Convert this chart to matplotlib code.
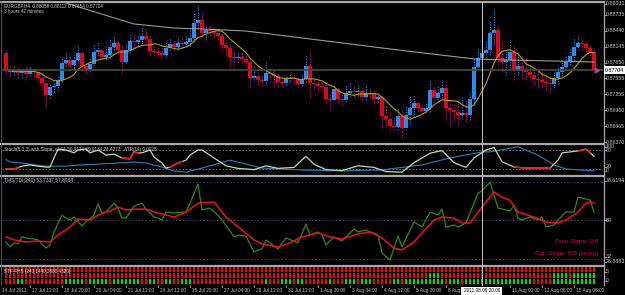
import matplotlib
matplotlib.use('Agg')
import matplotlib.pyplot as plt
from matplotlib.patches import Rectangle
from matplotlib.lines import Line2D
import numpy as np
import pandas as pd

# ---------------- data ----------------
first_open = 0.88028
closes = [0.87712, 0.87675, 0.87712, 0.87656, 0.87693, 0.87638, 0.87712, 0.87675, 0.87563, 0.87470,
          0.87247, 0.87396, 0.87414, 0.87526, 0.87842, 0.87898, 0.87805, 0.87898, 0.88028, 0.87786,
          0.87712, 0.87824, 0.88047, 0.88084, 0.87954, 0.87991, 0.88140, 0.88214, 0.88084, 0.87861,
          0.88084, 0.88251, 0.88233, 0.88270, 0.88344, 0.88289, 0.88065, 0.88047, 0.88028, 0.87991,
          0.88121, 0.88196, 0.88140, 0.88214, 0.88196, 0.88233, 0.88307, 0.88586, 0.88642, 0.88400,
          0.88456, 0.88437, 0.88400, 0.88344, 0.88177, 0.88121, 0.87954, 0.87935, 0.87954, 0.87917,
          0.87861, 0.87563, 0.87600, 0.87526, 0.87507, 0.87656, 0.87638, 0.87600, 0.87489, 0.87470,
          0.87545, 0.87563, 0.87545, 0.87452, 0.87545, 0.87786, 0.87470, 0.87452, 0.87414, 0.87396,
          0.87173, 0.87154, 0.87359, 0.87173, 0.87154, 0.87284, 0.87321, 0.87303, 0.87321, 0.87210,
          0.87284, 0.87266, 0.87173, 0.87210, 0.86856, 0.86801, 0.86670, 0.86652, 0.86856, 0.86633,
          0.86875, 0.87005, 0.87098, 0.87005, 0.86949, 0.87005, 0.87340, 0.87191, 0.87284, 0.87377,
          0.87005, 0.86968, 0.86931, 0.86875, 0.86912, 0.86875, 0.87173, 0.87768, 0.87935, 0.88028,
          0.88084, 0.88400, 0.88456, 0.87935, 0.87861, 0.87898, 0.88047, 0.87712, 0.87786, 0.87693,
          0.87675, 0.87619, 0.87545, 0.87526, 0.87489, 0.87470, 0.87452, 0.87563, 0.87675, 0.87768,
          0.87861, 0.87972, 0.88140, 0.88214, 0.88196, 0.88121, 0.88047, 0.87704]
highs = [0.88084, 0.87786, 0.87786, 0.87768, 0.87749, 0.87768, 0.87786, 0.87749, 0.87712, 0.87619,
         0.87526, 0.87452, 0.87470, 0.87619, 0.87935, 0.88047, 0.87972, 0.87991, 0.88177, 0.88047,
         0.87842, 0.87935, 0.88196, 0.88233, 0.88121, 0.88140, 0.88307, 0.88363, 0.88270, 0.88177,
         0.88196, 0.88400, 0.88344, 0.88363, 0.88512, 0.88493, 0.88344, 0.88177, 0.88140, 0.88121,
         0.88233, 0.88307, 0.88270, 0.88326, 0.88307, 0.88344, 0.88456, 0.88791, 0.88921, 0.88791,
         0.88549, 0.88549, 0.88512, 0.88456, 0.88400, 0.88270, 0.88177, 0.88084, 0.88047, 0.88028,
         0.87991, 0.87954, 0.87805, 0.87675, 0.87619, 0.87861, 0.87749, 0.87712, 0.87638, 0.87563,
         0.87619, 0.87638, 0.87638, 0.87582, 0.87619, 0.87991, 0.88047, 0.87563, 0.87526, 0.87526,
         0.87452, 0.87303, 0.87433, 0.87377, 0.87303, 0.87433, 0.87489, 0.87433, 0.87433, 0.87377,
         0.87414, 0.87377, 0.87340, 0.87303, 0.87247, 0.87061, 0.86931, 0.86819, 0.87005, 0.86968,
         0.87061, 0.87247, 0.87247, 0.87154, 0.87061, 0.87098, 0.87526, 0.87414, 0.87414, 0.87526,
         0.87489, 0.87154, 0.87098, 0.87154, 0.87210, 0.87154, 0.87303, 0.87935, 0.88121, 0.88177,
         0.88270, 0.88642, 0.88865, 0.88549, 0.88270, 0.88084, 0.88270, 0.88177, 0.88047, 0.87991,
         0.87935, 0.87805, 0.87749, 0.87712, 0.87675, 0.87619, 0.87563, 0.87675, 0.87786, 0.87898,
         0.87991, 0.88121, 0.88307, 0.88363, 0.88307, 0.88233, 0.88177, 0.88140]
lows = [0.87619, 0.87600, 0.87619, 0.87563, 0.87563, 0.87526, 0.87600, 0.87582, 0.87489, 0.87340,
        0.87024, 0.87191, 0.87303, 0.87340, 0.87489, 0.87786, 0.87712, 0.87749, 0.87842, 0.87712,
        0.87656, 0.87675, 0.87786, 0.87972, 0.87898, 0.87898, 0.87935, 0.88084, 0.88010, 0.87656,
        0.87842, 0.88028, 0.88121, 0.88158, 0.88196, 0.88233, 0.87991, 0.87972, 0.87954, 0.87935,
        0.87972, 0.88084, 0.88084, 0.88084, 0.88121, 0.88140, 0.88158, 0.88233, 0.88493, 0.88326,
        0.88270, 0.88344, 0.88307, 0.88270, 0.88084, 0.87991, 0.87712, 0.87805, 0.87861, 0.87842,
        0.87786, 0.87377, 0.87526, 0.87433, 0.87414, 0.87470, 0.87526, 0.87414, 0.87396, 0.87396,
        0.87433, 0.87470, 0.87452, 0.87377, 0.87414, 0.87489, 0.87210, 0.87340, 0.87303, 0.87340,
        0.87098, 0.86968, 0.87154, 0.87098, 0.87061, 0.87117, 0.87210, 0.87210, 0.87228, 0.87154,
        0.87154, 0.87191, 0.87098, 0.87117, 0.86633, 0.86689, 0.86596, 0.86596, 0.86596, 0.86447,
        0.86596, 0.86689, 0.86838, 0.86931, 0.86894, 0.86931, 0.86931, 0.87098, 0.87154, 0.87191,
        0.86782, 0.86689, 0.86782, 0.86689, 0.86819, 0.86745, 0.86782, 0.87061, 0.87712, 0.87805,
        0.87898, 0.87991, 0.88177, 0.87805, 0.87675, 0.87619, 0.87749, 0.87526, 0.87619, 0.87563,
        0.87526, 0.87526, 0.87433, 0.87396, 0.87377, 0.87340, 0.87303, 0.87377, 0.87452, 0.87600,
        0.87712, 0.87805, 0.87898, 0.88084, 0.88084, 0.88047, 0.87972, 0.87656]

slow_ma_bars = [10, 19, 32, 42, 49, 60, 82, 98, 117, 125, 147]
slow_ma_vals = [0.89079, 0.88865, 0.88568, 0.88493, 0.88475, 0.88437, 0.88233, 0.88084, 0.87917, 0.87898, 0.87861]
bid_price = 0.87704

price_labels = ['0.88735', '0.88440', '0.88145', '0.87850', '0.87555', '0.87255', '0.86960', '0.86665', '0.86370']
price_label_vals = [0.88735, 0.88440, 0.88145, 0.87850, 0.87555, 0.87255, 0.86960, 0.86665, 0.86370]
top_price_label = '0.89031'

stoch_k_bars = [0, 2, 4, 6, 8, 10, 11, 12, 13, 15, 17, 18, 20, 21, 23, 25, 27, 29, 31, 32, 33, 34, 36, 37, 39,
                40, 41, 43, 45, 46, 48, 49, 52, 55, 58, 62, 65, 68, 72, 75, 77, 80, 84, 88, 92, 95, 99, 102,
                106, 109, 112, 115, 117, 120, 122, 124, 127, 130, 136, 138, 139, 141, 143, 145, 147]
stoch_k_vals = [20, 20, 29, 33, 29, 26, 26, 55, 83, 80, 71, 80, 83, 71, 80, 64, 67, 55, 52, 74, 71, 71, 80, 58, 39,
                23, 26, 39, 48, 64, 80, 80, 55, 30, 22, 18, 30, 22, 25, 60, 35, 18, 15, 30, 25, 12, 10, 40,
                70, 78, 40, 25, 55, 80, 88, 43, 26, 23, 23, 48, 71, 74, 77, 83, 60]
stoch_red_ranges = [(0, 3), (29, 33), (41, 44), (127, 136), (143, 146)]
stoch_d_bars = [0, 1, 4, 7, 10, 15, 19, 24, 28, 32, 35, 39, 42, 45, 49, 56, 64, 74, 84, 94, 104, 111, 119, 121, 128, 133, 137, 140, 147]
stoch_d_vals = [50, 42, 39, 33, 29, 29, 33, 36, 39, 42, 39, 26, 14, 10, 23, 48, 23, 17, 14, 17, 33, 55, 74, 74, 90, 64, 33, 20, 14]

tdi_green_bars = [0, 1, 2, 3, 4, 5, 7, 8, 10, 11, 12, 14, 15, 16, 17, 19, 20, 22, 23, 24, 25, 27, 28, 29, 30, 32,
                  34, 35, 37, 38, 39, 40, 42, 45, 46, 48, 49, 51, 53, 54, 57, 58, 60, 62, 63, 64, 65, 68, 70,
                  73, 75, 76, 78, 79, 80, 82, 84, 87, 88, 90, 93, 94, 96, 98, 99, 102, 104, 106, 108, 109,
                  110, 112, 113, 115, 118, 119, 121, 123, 126, 127, 128, 129, 131, 133, 134, 135, 137, 138,
                  140, 142, 143, 145, 146, 147]
tdi_green_vals = [39.7, 37.4, 39.3, 38.8, 42.1, 41.6, 41.1, 40.7, 36.9, 38.3, 44.4, 52.3, 50.9, 50.0, 51.4, 47.2,
                  49.1, 52.3, 57.5, 53.3, 53.7, 57.9, 55.6, 50.9, 50.9, 56.5, 57.9, 55.1, 51.4, 50.9, 50.0,
                  53.7, 53.3, 53.7, 57.9, 66.8, 54.7, 55.6, 52.3, 50.0, 42.1, 43.0, 42.5, 35.0, 36.0, 36.4,
                  40.7, 36.4, 41.6, 39.3, 48.1, 43.0, 44.4, 43.0, 38.3, 42.1, 40.2, 45.8, 44.4, 45.3, 43.0,
                  34.6, 31.3, 42.5, 37.4, 49.1, 46.7, 53.7, 52.3, 55.1, 46.7, 47.7, 46.7, 48.6, 62.6, 63.6,
                  67.8, 55.6, 54.2, 57.0, 50.9, 50.0, 51.4, 50.0, 51.4, 46.7, 47.7, 50.0, 53.7, 53.7, 60.7,
                  59.8, 59.3, 53.7]
tdi_red_bars = [0, 2, 5, 8, 11, 13, 16, 18, 21, 23, 26, 28, 30, 33, 35, 38, 42, 45, 48, 52, 55, 59, 62, 64,
                68, 71, 74, 78, 81, 84, 88, 91, 94, 97, 99, 102, 104, 107, 109, 112, 114, 116, 119, 122,
                124, 126, 128, 132, 135, 138, 140, 143, 145, 146, 147]
tdi_red_vals = [42.1, 40.7, 39.7, 40.2, 39.7, 43.0, 46.7, 50.5, 50.0, 52.3, 54.2, 56.1, 54.7, 55.1, 55.1, 53.3,
                51.4, 53.7, 57.9, 58.4, 51.4, 45.3, 40.7, 38.8, 37.4, 39.3, 42.1, 43.9, 42.1, 41.1, 43.5,
                44.4, 41.6, 36.9, 36.0, 39.7, 43.9, 50.0, 51.4, 50.9, 48.6, 48.6, 56.1, 63.1, 60.7, 59.3,
                53.7, 51.4, 49.1, 48.6, 50.0, 53.7, 57.9, 58.4, 57.9]
tdi_levels = [68, 50, 32]

# heat map rows: '1' = green cell, '0' = red cell
heat_bottom = ("000" "11" "0000000000" "1111101111101111" "111001100110011100" "0000000000000000"
               "1" "000" "111" "0" "11" "000000" "1" "000" "111" "0" "111" "00000" "11" "0"
               "11111111110111" "0" "1111" "1111111111111" "00000" "11111111111")
heat_middle = "0" * 106 + "111" + "0" * 28 + "11110111111"
heat_top = "0" * 148

date_tick_bars = [6, 14, 22, 30, 38, 46, 54, 62, 70, 78, 86, 94, 102, 110, 126, 134, 142]
date_labels = ['17 Jul 12:00', '18 Jul 20:00', '20 Jul 04:00', '21 Jul 12:00', '24 Jul 12:00', '25 Jul 20:00',
               '27 Jul 04:00', '28 Jul 12:00', '31 Jul 12:00', '1 Aug 20:00', '3 Aug 04:00', '4 Aug 12:00',
               '5 Aug 20:00', '8 Aug 08:00', '11 Aug 00:00', '12 Aug 08:00', '15 Aug 08:00']
cursor_bar = 119
cursor_label = '2011.08.09 20:00'

# ---------------- layout helpers ----------------
W, H = 625, 295
fig = plt.figure(figsize=(W / 100, H / 100), dpi=100, facecolor='black')
FONT = 'Liberation Sans'
TXT = '#C8C8C8'
n = len(closes)
XL = (-1.0, 149.25)   # bar i sits at pixel 6 + 4*i


def px_axes(x0, y0, x1, y1):
    ax = fig.add_axes([x0 / W, 1 - y1 / H, (x1 - x0) / W, (y1 - y0) / H])
    ax.set_facecolor('black')
    ax.set_xticks([])
    ax.set_yticks([])
    for s in ax.spines.values():
        s.set_visible(False)
    ax.set_xlim(*XL)
    return ax


def fline(x0, y0, x1, y1, color='#A0A0A0', lw=1.5, ls='-', z=2):
    fig.add_artist(Line2D([x0 / W, x1 / W], [1 - y0 / H, 1 - y1 / H], transform=fig.transFigure,
                          color=color, lw=lw, ls=ls, zorder=z))


def ftext(x, y, s, color=TXT, size=3.6, ha='left', va='center', z=3, **kw):
    return fig.text(x / W, 1 - y / H, s, color=color, fontsize=size, ha=ha, va=va, family=FONT, zorder=z, **kw)


def fbox(x0, y0, w, h, z=5):
    fig.patches.append(Rectangle((x0 / W, 1 - (y0 + h) / H), w / W, h / H, transform=fig.transFigure,
                                 facecolor='white', edgecolor='none', zorder=z))


def yscale(a_px, a_val, b_px, b_val):
    def f(px):
        return a_val + (px - a_px) * (b_val - a_val) / (b_px - a_px)
    return f

# ---------------- main price panel ----------------
MAIN_T, MAIN_B = 2.5, 143.0
pmap = yscale(15, 0.88735, 142, 0.86370)
axm = px_axes(2, MAIN_T, 603, MAIN_B)
axm.set_ylim(pmap(MAIN_B), pmap(MAIN_T))

opens = [first_open] + closes[:-1]
for i in range(n):
    o, c, h, l = opens[i], closes[i], highs[i], lows[i]
    if c >= o:
        body, wick, ls = '#2E8EF0', '#2A7AD8', (0, (1, 1))
    else:
        body, wick, ls = '#FF0000', '#8A1456', (0, (1.5, 0.8))
    axm.vlines(i, l, h, color=wick, lw=0.9, linestyles=[ls])
    hgt = abs(c - o)
    if hgt < 0.00008:
        hgt = 0.00008
    axm.add_patch(Rectangle((i - 0.38, min(o, c)), 0.76, hgt, facecolor=body, edgecolor='none', lw=0))

sma = pd.Series(closes).rolling(8, min_periods=1).mean()
axm.plot(np.arange(n), sma, color='#B0A020', lw=0.8)
axm.plot(slow_ma_bars, slow_ma_vals, color='#9A9A9A', lw=0.8)
axm.axhline(bid_price, color='#3A4A3A', lw=1.3)

# ---------------- stochastic panel ----------------
ST_T, ST_B = 145.0, 175.0
smap = yscale(150, 80, 169, 20)
axs = px_axes(2, ST_T, 603, ST_B)
axs.set_ylim(smap(ST_B), smap(ST_T))
for lv in (80, 20):
    axs.axhline(lv, color='#7A7A7A', lw=0.6, ls=(0, (2, 2)))
axs.plot(stoch_d_bars, stoch_d_vals, color='#2F7FC0', lw=0.8)
axs.plot(stoch_k_bars, stoch_k_vals, color='#B8E0A8', lw=0.9)
for a, b in stoch_red_ranges:
    xs = np.linspace(a, b, 20)
    axs.plot(xs, np.interp(xs, stoch_k_bars, stoch_k_vals), color='#FF1020', lw=1.1)

# ---------------- TDI panel ----------------
TD_T, TD_B = 176.5, 265.0
tmap = yscale(220, 50, 258.5, 32)
axt = px_axes(2, TD_T, 603, TD_B)
axt.set_ylim(tmap(TD_B), tmap(TD_T))
for lv in tdi_levels:
    axt.axhline(lv, color='#3C4A64', lw=0.7, ls=(0, (1.5, 2)))
axt.plot(tdi_green_bars, tdi_green_vals, color='#2E8B10', lw=0.9)
axt.plot(tdi_red_bars, tdi_red_vals, color='#F01020', lw=1.1)

# ---------------- heat map panel ----------------
HM_T, HM_B = 267.0, 284.0
axh = px_axes(2, HM_T, 603, HM_B)
axh.set_ylim(0, 3)
for i in range(n):
    for row, s in ((2, heat_top), (1, heat_middle), (0, heat_bottom)):
        col = '#00E000' if s[i] == '1' else '#FF0000'
        axh.add_patch(Rectangle((i - 0.37, row + 0.07), 0.74, 0.86, facecolor=col, edgecolor='none'))

# ---------------- frame lines ----------------
for y in (1.5, 144.0, 175.7, 266.0):
    fline(1, y, 604, y, color='#A8A8A8', lw=1.6)
fline(603.5, 1, 603.5, 285, color='#A8A8A8', lw=0.9)
fline(1.2, 1, 1.2, 285, color='#606060', lw=0.6)
cx = 6 + 4 * cursor_bar
fline(cx, 2, cx, 285, color='#C8C8C8', lw=0.7)

# ---------------- texts ----------------
ftext(4, 5.5, 'EURGBP,H4  0.88058 0.88112 0.87654 0.87704', size=3.35)
ftext(4, 11.5, '3 hours 42 minutes', size=3.35)
ftext(4, 149.5, 'Stoch(8,3,3) with Slope, v1.01 59.9134 59.9134 24.4273   ATR(14) 0.0028', size=3.35)
ftext(4, 180.5, 'TMS/TDI(240) 53.7337 57.8964', size=3.5)
ftext(598, 241, 'Prev Slope: 0.8', color='#C8104A', size=4.6, ha='right')
ftext(598, 253, 'Cur. Slope: 6.5 (cross)', color='#C8104A', size=4.6, ha='right')
ftext(4, 271.0, 'STF-FHS (240,1440,2880,4320)', color='white', size=3.3)

# right-axis labels
def ylab(ypx, s, boxed=False):
    fline(603.5, ypx, 605.5, ypx, color='#A8A8A8', lw=0.6)
    if boxed:
        fbox(604, ypx - 4, 21, 8)
        ftext(605, ypx, s, color='black', size=3.8, z=6)
    else:
        ftext(605.5, ypx, s, size=3.8)

def inv(m, val, a_px, b_px):
    return a_px + (val - m(a_px)) * (b_px - a_px) / (m(b_px) - m(a_px))

ylab(3.5, top_price_label)
for s, v in zip(price_labels, price_label_vals):
    ylab(inv(pmap, v, 15, 142), s)
ylab(inv(pmap, bid_price, 15, 142), '%.5f' % bid_price, boxed=True)
axm.plot([n - 0.2], [bid_price], marker='>', color='#B040B0', ms=3, clip_on=False)

ylab(146.5, '100')
ylab(150, '80')
ylab(166.5, '20')
ylab(171, '0')
ylab(180.5, '78.6194')
ylab(220, '50')
ylab(256.5, '32')
ylab(261.5, '28.8883')
ylab(271.5, '5')
ylab(280.5, '0')

# date axis
ftext(2, 290.5, '14 Jul 2011', size=3.4)
for b, s in zip(date_tick_bars, date_labels):
    xp = 6 + 4 * b
    fline(xp, 284.5, xp, 287, color='#A8A8A8', lw=0.6)
    ftext(xp + 2, 290.5, s, size=3.4)
fbox(cx - 20.5, 286.5, 41, 8, z=5)
ftext(cx, 290.5, cursor_label, color='black', size=3.4, ha='center', z=6)

fig.savefig('out.png', dpi=100, facecolor='black')
